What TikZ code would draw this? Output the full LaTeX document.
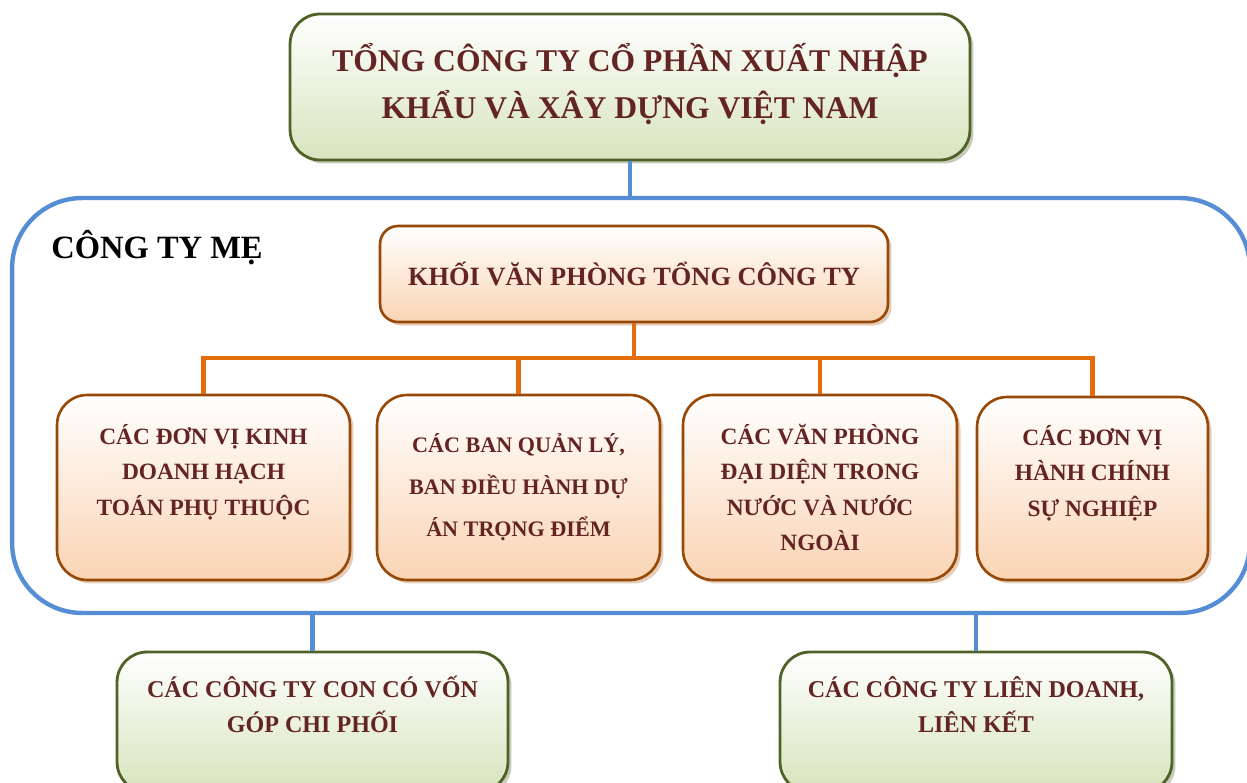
\documentclass[tikz,border=0pt]{standalone}
\usepackage{fontspec}
\setmainfont{Liberation Serif}
\usetikzlibrary{shadows}

\definecolor{textred}{RGB}{99,36,35}
\definecolor{oliveline}{RGB}{79,98,40}
\definecolor{olivefill}{RGB}{215,228,189}
\definecolor{brownline}{RGB}{152,72,7}
\definecolor{peachfill}{RGB}{250,212,180}
\definecolor{busorange}{RGB}{228,108,10}
\definecolor{frameblue}{RGB}{85,142,213}

\begin{document}
\begin{tikzpicture}[x=0.02cm,y=-0.02cm,
    greenbox/.style={draw=oliveline,line width=1.6pt,rounded corners=0.6cm,
        top color=white,bottom color=olivefill,
        drop shadow={shadow xshift=2pt,shadow yshift=-2pt,fill=oliveline!55!white,opacity=0.6},
        text=textred,font=\bfseries\fontsize{13.7pt}{20pt}\selectfont,align=center},
    peachbox/.style={draw=brownline,line width=1.5pt,rounded corners=0.6cm,
        top color=white,bottom color=peachfill,
        drop shadow={shadow xshift=2pt,shadow yshift=-2pt,fill=brownline!45!white,opacity=0.6},
        text=textred,font=\bfseries\fontsize{13.3pt}{20pt}\selectfont,align=center,
        minimum height=3.7cm},
    blueline/.style={draw=frameblue,line width=2.8pt},
    busline/.style={draw=busorange,line width=2.8pt}]

    \useasboundingbox (0,0) rectangle (1247,783);
    \clip (0,0) rectangle (1247,783);

    % khung cong ty me
    \node[draw=frameblue,line width=2.5pt,rounded corners=1.4cm,
        minimum width=24.76cm,minimum height=8.3cm] (mother) at (631,405.5) {};
    \node[font=\bfseries\fontsize{18.5pt}{22pt}\selectfont] (mothertitle) at (157,248) {CÔNG TY MẸ};

    % tong cong ty
    \node[greenbox,minimum width=13.6cm,minimum height=2.92cm,
        font=\bfseries\fontsize{18pt}{27pt}\selectfont] (top) at (630,87)
        {TỔNG CÔNG TY CỔ PHẦN XUẤT NHẬP\\KHẨU VÀ XÂY DỰNG VIỆT NAM\\[-20pt]\mbox{}};
    \draw[blueline] (top.south) -- (top.south |- mother.north);

    % khoi van phong
    \node[peachbox,minimum width=10.16cm,minimum height=1.92cm,rounded corners=0.36cm,
        font=\bfseries\fontsize{15pt}{18pt}\selectfont] (office) at (634,274)
        {KHỐI VĂN PHÒNG TỔNG CÔNG TY};

    \node[peachbox,minimum width=5.86cm] (u1) at (203.5,487.5)
        {CÁC ĐƠN VỊ KINH\\DOANH HẠCH\\TOÁN PHỤ THUỘC\\\mbox{}};
    \node[peachbox,minimum width=5.66cm,font=\bfseries\fontsize{12.6pt}{24pt}\selectfont] (u2) at (518.5,487.5)
        {CÁC BAN QUẢN LÝ,\\BAN ĐIỀU HÀNH DỰ\\ÁN TRỌNG ĐIỂM};
    \node[peachbox,minimum width=5.48cm] (u3) at (820,487.5)
        {CÁC VĂN PHÒNG\\ĐẠI DIỆN TRONG\\NƯỚC VÀ NƯỚC\\NGOÀI};
    \node[peachbox,minimum width=4.62cm,minimum height=3.66cm] (u4) at (1092.5,488.5)
        {CÁC ĐƠN VỊ\\HÀNH CHÍNH\\SỰ NGHIỆP\\\mbox{}};

    \coordinate (bus) at (634,358);
    \draw[busline] (office.south) -- (bus);
    \foreach \u in {u1,u2,u3,u4}
        \draw[busline] (\u.north) |- (bus);

    % cong ty con, lien doanh
    \node[greenbox,minimum width=7.82cm,minimum height=2.8cm] (sub) at (312.5,722)
        {CÁC CÔNG TY CON CÓ VỐN\\GÓP CHI PHỐI\\\mbox{}};
    \node[greenbox,minimum width=7.84cm,minimum height=2.8cm] (joint) at (976,722)
        {CÁC CÔNG TY LIÊN DOANH,\\LIÊN KẾT\\\mbox{}};
    \draw[blueline] (sub.north) -- (sub.north |- mother.south);
    \draw[blueline] (joint.north) -- (joint.north |- mother.south);
\end{tikzpicture}
\end{document}
